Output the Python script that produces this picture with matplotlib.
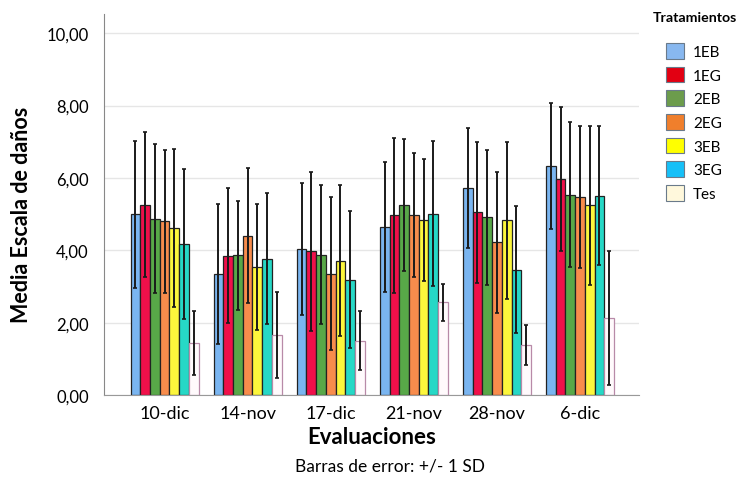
import numpy as np
import matplotlib.pyplot as plt
from matplotlib.patches import Patch

plt.rcParams['font.family'] = ['Lato', 'DejaVu Sans']

evaluaciones = ['10-dic', '14-nov', '17-dic', '21-nov', '28-nov', '6-dic']
tratamientos = ['1EB', '1EG', '2EB', '2EG', '3EB', '3EG', 'Tes']

# medias por tratamiento (una por evaluacion)
medias = {
    '1EB': [4.99, 3.35, 4.04, 4.64, 5.72, 6.32],
    '1EG': [5.26, 3.85, 3.97, 4.97, 5.05, 5.97],
    '2EB': [4.87, 3.86, 3.88, 5.25, 4.91, 5.54],
    '2EG': [4.80, 4.40, 3.35, 4.97, 4.22, 5.47],
    '3EB': [4.62, 3.55, 3.71, 4.83, 4.83, 5.24],
    '3EG': [4.18, 3.77, 3.19, 5.01, 3.46, 5.51],
    'Tes': [1.43, 1.66, 1.50, 2.56, 1.39, 2.12],
}
# desviacion estandar
sd = {
    '1EB': [2.02, 1.94, 1.82, 1.80, 1.66, 1.74],
    '1EG': [2.01, 1.86, 2.20, 2.14, 1.95, 2.00],
    '2EB': [2.06, 1.51, 1.92, 1.83, 1.86, 2.00],
    '2EG': [1.97, 1.86, 2.12, 1.72, 1.94, 1.96],
    '3EB': [2.19, 1.74, 2.09, 1.68, 2.17, 2.19],
    '3EG': [2.07, 1.82, 1.89, 2.00, 1.76, 1.92],
    'Tes': [0.88, 1.20, 0.81, 0.51, 0.55, 1.85],
}

bar_colors = ['#7ab5f0', '#f0104a', '#58a848', '#f88c4c', '#fcf63c', '#26d8c6', '#fffafc']
edge_colors = ['#222222'] * 6 + ['#b88aa8']
legend_colors = ['#88b8f0', '#e20012', '#6c9c4c', '#f07f2c', '#ffff00', '#16c0f8', '#fff8dc']

fig = plt.figure(figsize=(7.41, 4.85), dpi=100)
ax = fig.add_axes([0.1404, 0.1835, 0.722, 0.7856])

x = np.arange(len(evaluaciones))
w = 0.117
for i, t in enumerate(tratamientos):
    pos = x + (i - 3) * w
    ax.bar(pos, medias[t], width=w, color=bar_colors[i], edgecolor=edge_colors[i],
           linewidth=0.9, zorder=2)
    ax.errorbar(pos, medias[t], yerr=sd[t], fmt='none', ecolor='#1a1a1a',
                elinewidth=1.4, capsize=1.5, capthick=1.2, zorder=3)

ax.set_xlim(-0.728, 5.71)
ax.set_ylim(0, 10.53)
ax.set_yticks([0, 2, 4, 6, 8, 10])
ax.set_yticklabels(['0,00', '2,00', '4,00', '6,00', '8,00', '10,00'], fontsize=12)
ax.set_xticks(x)
ax.set_xticklabels(evaluaciones, fontsize=13)
ax.tick_params(axis='y', length=0, pad=11)
ax.tick_params(axis='x', length=0, pad=7)
ax.yaxis.grid(True, color='#e6e6e6', linewidth=1)
ax.set_axisbelow(True)
for s in ['top', 'right']:
    ax.spines[s].set_visible(False)
ax.spines['left'].set_color('#888888')
ax.spines['bottom'].set_color('#999999')

ax.set_ylabel('Media Escala de daños', fontsize=15.5, fontweight='bold')
ax.yaxis.set_label_coords(-0.135, 0.475)
ax.set_xlabel('Evaluaciones', fontsize=16, fontweight='bold', labelpad=4)
fig.text(0.526, 0.039, 'Barras de error: +/- 1 SD', ha='center', va='center', fontsize=12.5)

fig.text(0.881, 0.962, 'Tratamientos', ha='left', va='center', fontsize=10.2, fontweight='bold')
handles = [Patch(facecolor=legend_colors[i], edgecolor='#6a7a8a', linewidth=0.8)
           for i in range(len(tratamientos))]
leg = fig.legend(handles, tratamientos, loc='upper left', bbox_to_anchor=(0.899, 0.909),
                 frameon=False, fontsize=11, borderpad=0, borderaxespad=0,
                 handlelength=1.2, handleheight=1.2, labelspacing=0.5,
                 handletextpad=0.55)

fig.savefig('out.png', dpi=100)
